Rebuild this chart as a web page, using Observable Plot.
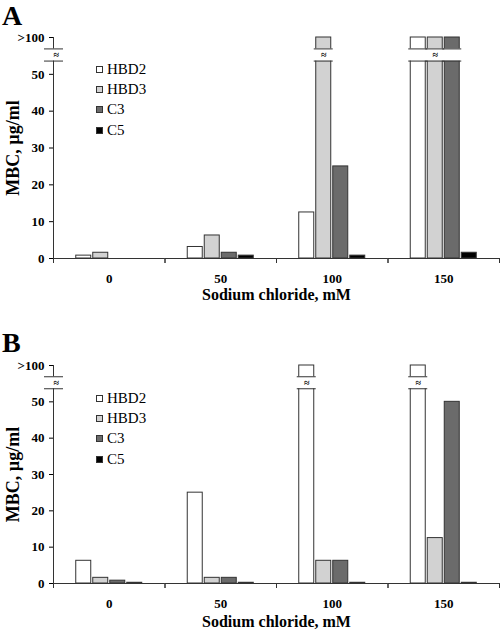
<!DOCTYPE html>
<html><head><meta charset="utf-8">
<script src="https://cdn.jsdelivr.net/npm/d3@7"></script>
<script src="https://cdn.jsdelivr.net/npm/@observablehq/plot@0.6"></script>
<style>
body{margin:0;background:#fff;font-family:"Liberation Serif",serif;}
.panel{position:relative;width:500px;height:315px;}
.letter{position:absolute;left:2px;font-family:"Liberation Serif",serif;font-weight:bold;font-size:28px;line-height:normal;color:#000;}
.legend{position:absolute;left:96px;font-family:"Liberation Serif",serif;font-size:15px;color:#000;}
.legend .row{display:flex;align-items:center;height:20.3px;}
.legend .sw{width:5px;height:5px;border:1px solid #333;margin-right:4px;}
svg g[aria-label="fx-axis label"] text{font-size:16px;}
svg g[aria-label="y-axis label"] text{font-size:18px;}
</style></head><body>
<div id="fig"></div>
<script>
const nacl = [0, 50, 100, 150];
const series = ["HBD2", "HBD3", "C3", "C5"];
const fills = ["#ffffff", "#d2d2d2", "#6b6b6b", "#000000"];
const GT = ">100";
// Panel A (MBC, µg/ml at 0, 50, 100, 150 mM NaCl)
const aHBD2 = [0.78, 3.125, 12.5, GT];
const aHBD3 = [1.56, 6.25, GT, GT];
const aC3 = [0, 1.56, 25, GT];
const aC5 = [0, 0.78, 0.78, 1.56];
// Panel B
const bHBD2 = [6.25, 25, GT, GT];
const bHBD3 = [1.56, 1.56, 6.25, 12.5];
const bC3 = [0.78, 1.56, 6.25, 50];
const bC5 = [0.2, 0.2, 0.2, 0.2];
const yTicks = [0, 10, 20, 30, 40, 50, 60];
const yTickLabels = ["0", "10", "20", "30", "40", "50", ">100"];
const xLabel = "Sodium chloride, mM";
const yLabel = "MBC, µg/ml";

const CAP = 60;            // axis position of ">100"
const BREAK = [53.6, 56.9]; // axis break
const ML = 53, MR = 1, W = 500;
const fw = (W - ML - MR) / nacl.length;

function makePanel(letter, cols, o) {
  const rows = [];
  series.forEach((s, j) => cols[j].forEach((v, i) => rows.push({nacl: nacl[i], series: s, value: v})));
  const yv = d => d.value === GT ? CAP : d.value;
  const broken = rows.filter(d => d.value === GT);
  const mids = nacl.flatMap(n => {
    const b = broken.filter(d => d.nacl === n);
    return b.length ? [b[Math.floor((b.length - 1) / 2)]] : [];
  });
  const mid = (BREAK[0] + BREAK[1]) / 2;
  const ink = "#333";
  const plot = Plot.plot({
    width: W, height: 315,
    marginLeft: ML, marginRight: MR, marginTop: o.mt, marginBottom: o.mb,
    style: {fontFamily: "Liberation Serif", fontSize: "13px", fontWeight: "bold", color: "#000", background: "#fff"},
    fx: {domain: nacl, padding: 0, round: false},
    x: {domain: series, paddingInner: 2 / 17, paddingOuter: 1.338, axis: null, round: false},
    y: {domain: [0, CAP]},
    color: {domain: series, range: fills},
    marks: [
      Plot.barY(rows.filter(d => yv(d) > 0), {fx: "nacl", x: "series", y: yv, fill: "series", stroke: ink, strokeWidth: 1}),
      Plot.barY(broken, {fx: "nacl", x: "series", y1: () => BREAK[0], y2: () => BREAK[1], fill: "white", insetLeft: -2, insetRight: -2}),
      Plot.tickY(broken, {fx: "nacl", x: "series", y: () => BREAK[0], stroke: ink, insetLeft: -2, insetRight: -2}),
      Plot.tickY(broken, {fx: "nacl", x: "series", y: () => BREAK[1], stroke: ink, insetLeft: -2, insetRight: -2}),
      Plot.text(mids, {fx: "nacl", x: "series", y: () => mid, text: () => "≈", fontSize: 10}),
      Plot.ruleY([0], {stroke: ink}),
      Plot.frame({anchor: "left", facetAnchor: "left", stroke: ink}),
      Plot.rect([0], {y1: () => BREAK[0], y2: () => BREAK[1], fill: "white", insetLeft: -3, insetRight: fw - 3, facetAnchor: "left"}),
      Plot.ruleY(BREAK, {stroke: ink, insetLeft: -9, insetRight: fw - 10, facetAnchor: "left"}),
      Plot.text(["≈"], {frameAnchor: "left", y: () => mid, text: d => d, fontSize: 10, facetAnchor: "left"}),
      Plot.axisY({ticks: yTicks, tickFormat: d => yTickLabels[yTicks.indexOf(d)], tickSize: 4, tickPadding: 5,
        label: yLabel, labelAnchor: "center", labelOffset: 47, labelArrow: "none"}),
      Plot.axisFx({anchor: "bottom", tickSize: 0, tickPadding: 15, label: xLabel, labelAnchor: "center", labelOffset: o.lo}),
      Plot.axisFx({anchor: "bottom", tickSize: 5, dx: -fw / 2, tickFormat: () => "", label: null, stroke: ink}),
      Plot.axisFx({anchor: "bottom", tickSize: 5, dx: fw / 2, tickFormat: () => "", label: null, stroke: ink})
    ]
  });
  const div = document.createElement("div");
  div.className = "panel";
  div.appendChild(plot);
  const L = document.createElement("div");
  L.className = "letter";
  L.style.top = o.lt + "px";
  L.textContent = letter;
  div.appendChild(L);
  const leg = document.createElement("div");
  leg.className = "legend";
  leg.style.top = o.legTop + "px";
  series.forEach((s, i) => {
    const r = document.createElement("div");
    r.className = "row";
    const sw = document.createElement("span");
    sw.className = "sw";
    sw.style.background = fills[i];
    r.appendChild(sw);
    r.appendChild(document.createTextNode(s));
    leg.appendChild(r);
  });
  div.appendChild(leg);
  plot.style.display = "block";
  return div;
}

const fig = document.getElementById("fig");
fig.appendChild(makePanel("A", [aHBD2, aHBD3, aC3, aC5], {mt: 37, mb: 57, lo: 41, lt: 0, legTop: 59.2}));
fig.appendChild(makePanel("B", [bHBD2, bHBD3, bC3, bC5], {mt: 50, mb: 47, lo: 43, lt: 12, legTop: 73.2}));
</script>
</body></html>
